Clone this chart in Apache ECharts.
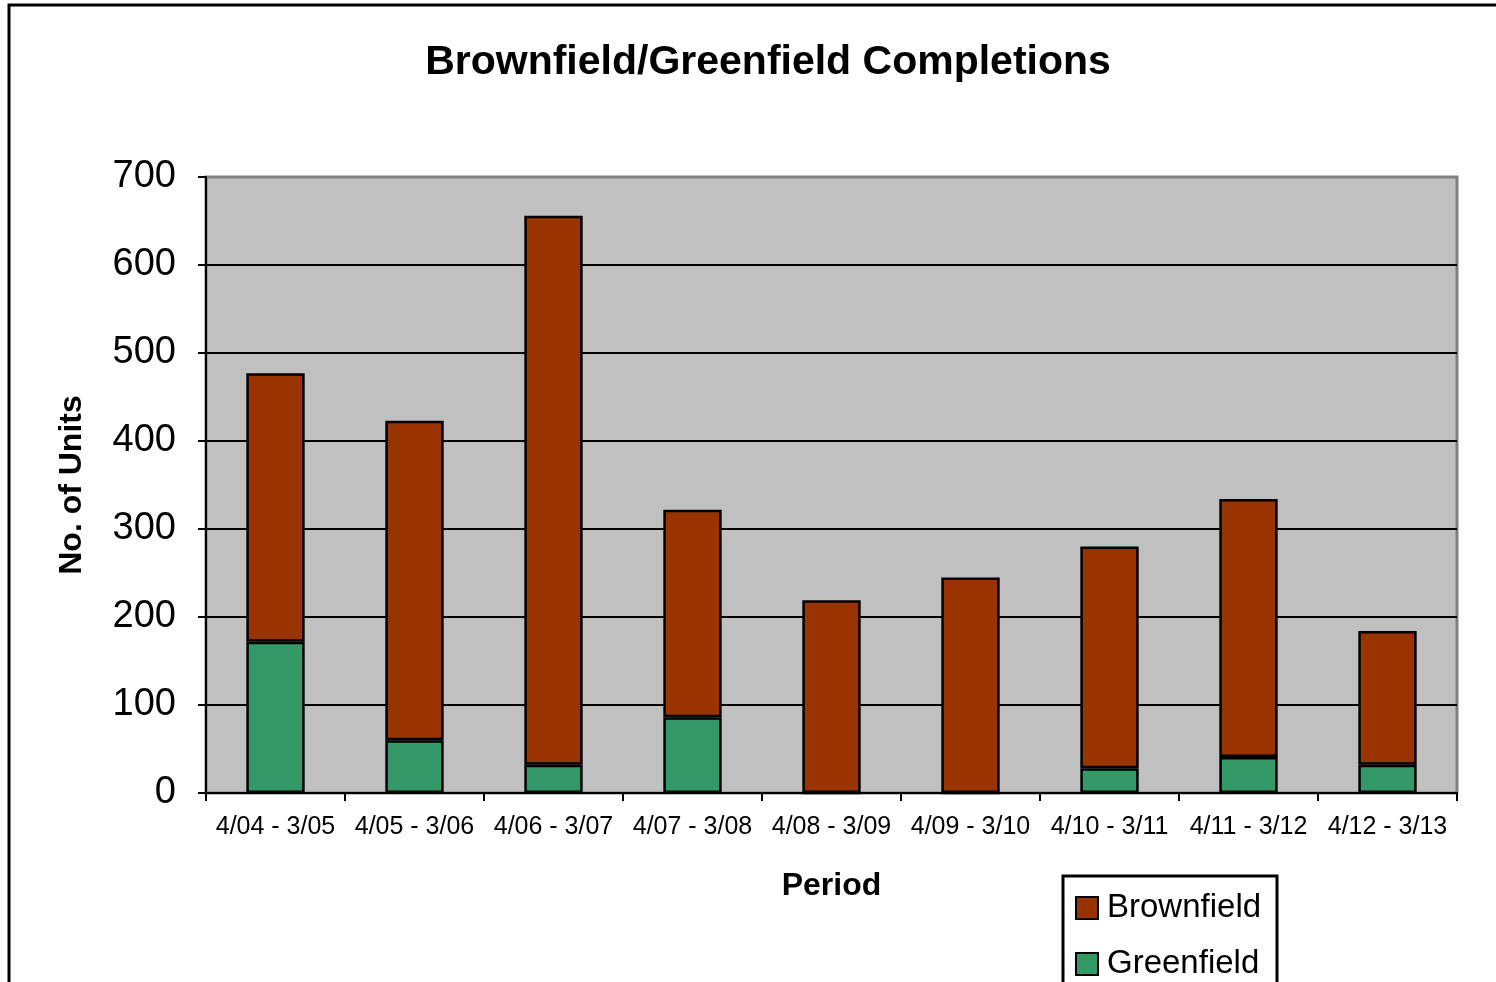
<!DOCTYPE html>
<html>
<head>
<meta charset="utf-8">
<script src="https://cdn.jsdelivr.net/npm/echarts@6/dist/echarts.min.js"></script>
<style>
html,body{margin:0;padding:0;background:#fff;}
#chart{width:1496px;height:982px;}
</style>
</head>
<body>
<div id="chart"></div>
<script>
const categories = ['4/04 - 3/05','4/05 - 3/06','4/06 - 3/07','4/07 - 3/08','4/08 - 3/09','4/09 - 3/10','4/10 - 3/11','4/11 - 3/12','4/12 - 3/13'];
const greenfield = [172, 60, 32, 86, 0, 0, 28, 41, 32];
const brownfield = [305, 363, 624, 236, 219, 245, 252, 293, 152];
const yTicks = [0, 100, 200, 300, 400, 500, 600, 700];

const FONT = '"Liberation Sans", Arial, sans-serif';
const chart = echarts.init(document.getElementById('chart'), null, {renderer: 'canvas'});
const splitColors = yTicks.map((v, i) => i === yTicks.length - 1 ? '#808080' : '#000000');

chart.setOption({
  animation: false,
  backgroundColor: '#ffffff',
  textStyle: {fontFamily: FONT},
  graphic: [{
    type: 'rect', z: -10,
    shape: {x: 9, y: 5, width: 1600, height: 1100},
    style: {fill: '#ffffff', stroke: '#000000', lineWidth: 3}
  }, {
    type: 'rect', z: 1,
    shape: {x: 1063, y: 876, width: 214, height: 200},
    style: {fill: '#ffffff', stroke: '#000000', lineWidth: 3}
  }],
  title: {
    text: 'Brownfield/Greenfield Completions',
    left: 763, top: 37, textAlign: 'center',
    textStyle: {fontFamily: FONT, fontWeight: 'bold', fontSize: 41, color: '#000'}
  },
  legend: {
    orient: 'vertical',
    left: 1075, top: 890,
    z: 5,
    data: ['Brownfield', 'Greenfield'],
    padding: 0,
    itemWidth: 22, itemHeight: 22, itemGap: 20,
    icon: 'rect',
    itemStyle: {borderColor: '#000', borderWidth: 2},
    textStyle: {fontFamily: FONT, fontSize: 33, lineHeight: 36, color: '#000', padding: [0, 0, 0, 4]}
  },
  grid: {
    left: 206, right: 39, top: 177, bottom: 189,
    show: true, backgroundColor: '#C0C0C0',
    borderColor: '#808080', borderWidth: 3
  },
  xAxis: {
    type: 'category', data: categories,
    name: 'Period', nameLocation: 'middle', nameGap: 77,
    nameTextStyle: {fontFamily: FONT, fontWeight: 'bold', fontSize: 32, color: '#000'},
    axisLine: {lineStyle: {color: '#000', width: 2}},
    axisTick: {show: true, length: 8, lineStyle: {color: '#000', width: 2}},
    axisLabel: {fontFamily: FONT, fontSize: 25, color: '#000', margin: 22, interval: 0}
  },
  yAxis: {
    type: 'value', min: 0, max: 700, interval: 100,
    name: 'No. of Units', nameLocation: 'middle', nameGap: 118,
    nameTextStyle: {fontFamily: FONT, fontWeight: 'bold', fontSize: 32, color: '#000'},
    axisLine: {show: true, lineStyle: {color: '#000', width: 2}},
    axisTick: {show: true, length: 8, lineStyle: {color: '#000', width: 2}},
    axisLabel: {fontFamily: FONT, fontSize: 38, color: '#000', margin: 30},
    splitLine: {show: true, lineStyle: {color: splitColors, width: 2}}
  },
  series: [
    {
      name: 'Greenfield', type: 'bar', stack: 'total', data: greenfield,
      barWidth: '42%',
      itemStyle: {color: '#339966', borderColor: '#000', borderWidth: 2.5}
    },
    {
      name: 'Brownfield', type: 'bar', stack: 'total', data: brownfield,
      barWidth: '42%',
      itemStyle: {color: '#993300', borderColor: '#000', borderWidth: 2.5}
    }
  ]
});
</script>
</body>
</html>
